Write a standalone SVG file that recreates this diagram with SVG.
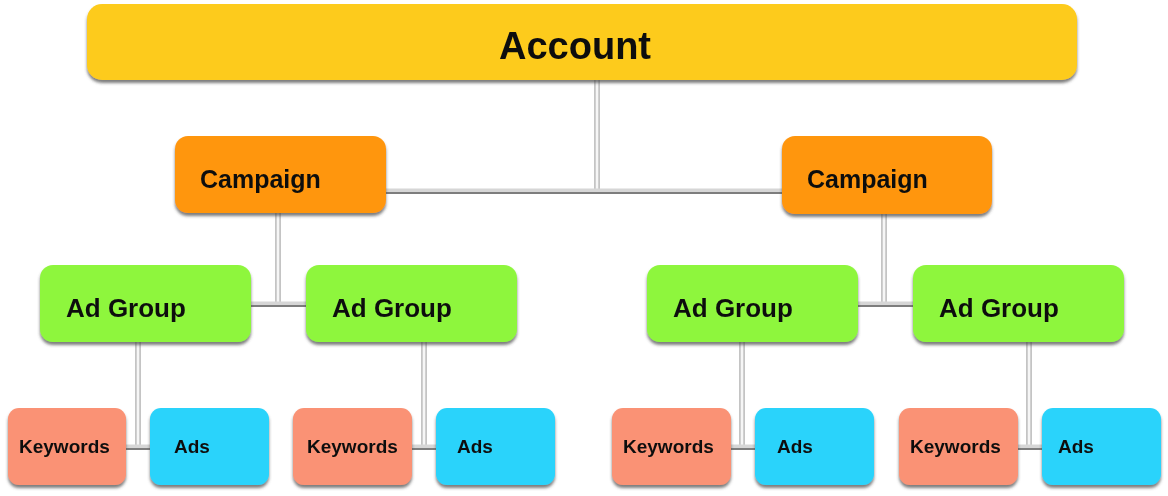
<svg xmlns="http://www.w3.org/2000/svg" width="1168" height="496" viewBox="0 0 1168 496">
<defs>
<filter id="sh" x="-10%" y="-20%" width="120%" height="150%">
<feDropShadow dx="0" dy="3" stdDeviation="1.6" flood-color="#444" flood-opacity="0.7"/>
</filter>
<style>
text{font-family:"Liberation Sans",Arial,sans-serif;font-weight:bold;fill:#111}
.acc{fill:#FDCB1B}
.cmp{fill:#FF960F}
.ag{fill:#8EF63E}
.kw{fill:#FA9274}
.ad{fill:#2AD3FB}
.vo{stroke:#c4c4c4;stroke-width:6;fill:none}
.vi{stroke:#f6f6f6;stroke-width:2.5;fill:none}
.ho{stroke:#d6d6d6;stroke-width:5;fill:none}
.hi{stroke:#7d7d7d;stroke-width:2;fill:none}
</style>
</defs>
<rect width="1168" height="496" fill="#fff"/>
<g id="connectors">
<line class="vo" x1="597" y1="78" x2="597" y2="191"/>
<line class="vi" x1="597" y1="78" x2="597" y2="191"/>
<line class="ho" x1="384" y1="191" x2="784" y2="191"/>
<line class="hi" x1="384" y1="193" x2="784" y2="193"/>
<line class="vo" x1="278" y1="211" x2="278" y2="304"/>
<line class="vi" x1="278" y1="211" x2="278" y2="304"/>
<line class="ho" x1="249" y1="304" x2="308" y2="304"/>
<line class="hi" x1="249" y1="306" x2="308" y2="306"/>
<line class="vo" x1="884" y1="212" x2="884" y2="304"/>
<line class="vi" x1="884" y1="212" x2="884" y2="304"/>
<line class="ho" x1="856" y1="304" x2="915" y2="304"/>
<line class="hi" x1="856" y1="306" x2="915" y2="306"/>
<line class="vo" x1="138" y1="340" x2="138" y2="447"/>
<line class="vi" x1="138" y1="340" x2="138" y2="447"/>
<line class="ho" x1="124" y1="447" x2="152" y2="447"/>
<line class="hi" x1="124" y1="449" x2="152" y2="449"/>
<line class="vo" x1="424" y1="340" x2="424" y2="447"/>
<line class="vi" x1="424" y1="340" x2="424" y2="447"/>
<line class="ho" x1="410" y1="447" x2="438" y2="447"/>
<line class="hi" x1="410" y1="449" x2="438" y2="449"/>
<line class="vo" x1="742" y1="340" x2="742" y2="447"/>
<line class="vi" x1="742" y1="340" x2="742" y2="447"/>
<line class="ho" x1="729" y1="447" x2="757" y2="447"/>
<line class="hi" x1="729" y1="449" x2="757" y2="449"/>
<line class="vo" x1="1029" y1="340" x2="1029" y2="447"/>
<line class="vi" x1="1029" y1="340" x2="1029" y2="447"/>
<line class="ho" x1="1016" y1="447" x2="1044" y2="447"/>
<line class="hi" x1="1016" y1="449" x2="1044" y2="449"/>
</g>
<g id="account" filter="url(#sh)">
<rect class="acc" x="87" y="4" width="990" height="76" rx="15"/>
<text x="575" y="59" font-size="38" text-anchor="middle">Account</text>
</g>
<g id="campaign-left" filter="url(#sh)">
<rect class="cmp" x="175" y="136" width="211" height="77" rx="13"/>
<text x="200" y="188" font-size="25">Campaign</text>
</g>
<g id="campaign-right" filter="url(#sh)">
<rect class="cmp" x="782" y="136" width="210" height="78" rx="13"/>
<text x="807" y="188" font-size="25">Campaign</text>
</g>
<g id="adgroup-1" filter="url(#sh)">
<rect class="ag" x="40" y="265" width="211" height="77" rx="13"/>
<text x="66" y="317" font-size="26">Ad Group</text>
</g>
<g id="adgroup-2" filter="url(#sh)">
<rect class="ag" x="306" y="265" width="211" height="77" rx="13"/>
<text x="332" y="317" font-size="26">Ad Group</text>
</g>
<g id="adgroup-3" filter="url(#sh)">
<rect class="ag" x="647" y="265" width="211" height="77" rx="13"/>
<text x="673" y="317" font-size="26">Ad Group</text>
</g>
<g id="adgroup-4" filter="url(#sh)">
<rect class="ag" x="913" y="265" width="211" height="77" rx="13"/>
<text x="939" y="317" font-size="26">Ad Group</text>
</g>
<g id="keywords-1" filter="url(#sh)">
<rect class="kw" x="8" y="408" width="118" height="77" rx="11"/>
<text x="19" y="453" font-size="19">Keywords</text>
</g>
<g id="ads-1" filter="url(#sh)">
<rect class="ad" x="150" y="408" width="119" height="77" rx="11"/>
<text x="174" y="453" font-size="19">Ads</text>
</g>
<g id="keywords-2" filter="url(#sh)">
<rect class="kw" x="293" y="408" width="119" height="77" rx="11"/>
<text x="307" y="453" font-size="19">Keywords</text>
</g>
<g id="ads-2" filter="url(#sh)">
<rect class="ad" x="436" y="408" width="119" height="77" rx="11"/>
<text x="457" y="453" font-size="19">Ads</text>
</g>
<g id="keywords-3" filter="url(#sh)">
<rect class="kw" x="612" y="408" width="119" height="77" rx="11"/>
<text x="623" y="453" font-size="19">Keywords</text>
</g>
<g id="ads-3" filter="url(#sh)">
<rect class="ad" x="755" y="408" width="119" height="77" rx="11"/>
<text x="777" y="453" font-size="19">Ads</text>
</g>
<g id="keywords-4" filter="url(#sh)">
<rect class="kw" x="899" y="408" width="119" height="77" rx="11"/>
<text x="910" y="453" font-size="19">Keywords</text>
</g>
<g id="ads-4" filter="url(#sh)">
<rect class="ad" x="1042" y="408" width="119" height="77" rx="11"/>
<text x="1058" y="453" font-size="19">Ads</text>
</g>
</svg>
